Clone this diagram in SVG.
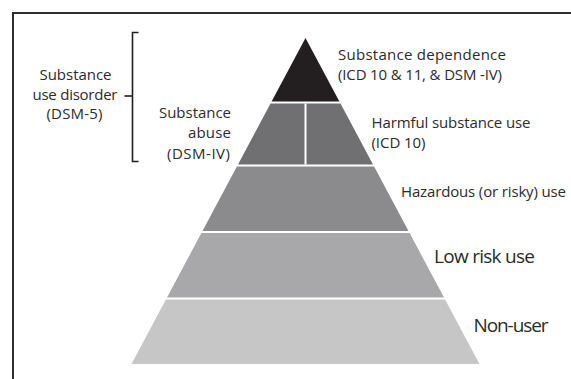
<svg xmlns="http://www.w3.org/2000/svg" width="571" height="379" viewBox="0 0 571 379">
<style>
text{font-family:"Open Sans","Liberation Sans",sans-serif;fill:#2b2b2b;font-size:15px}
.big{font-size:19px}
.frame{fill:none;stroke:#2e2e2e;stroke-width:2}
.br{fill:none;stroke:#231f20;stroke-width:1.6}
</style>
<rect width="571" height="379" fill="#ffffff"/>
<path class="frame" d="M13,379 V13 H571"/>
<g id="dependence">
<polygon points="305.5,38 339.4,101.5 271.6,101.5" fill="#231f20"/>
<text x="338" y="60" textLength="168">Substance dependence</text>
<text x="338" y="80" textLength="164">(ICD 10 &amp; 11, &amp; DSM -IV)</text>
</g>
<g id="abuse-harmful">
<polygon points="270.5,103.5 340.5,103.5 373,164.5 238,164.5" fill="#707072"/>
<line x1="305.5" y1="103.5" x2="305.5" y2="164.5" stroke="#ffffff" stroke-width="2"/>
<text x="231" y="118" text-anchor="end" textLength="72">Substance</text>
<text x="231" y="138" text-anchor="end" textLength="43">abuse</text>
<text x="230" y="159" text-anchor="end" textLength="63">(DSM-IV)</text>
<text x="371.5" y="128" textLength="159">Harmful substance use</text>
<text x="371.5" y="148" textLength="54">(ICD 10)</text>
</g>
<g id="hazardous">
<polygon points="236.9,166.5 374.1,166.5 408.5,231 202.5,231" fill="#8b8b8d"/>
<text x="401" y="197" textLength="165">Hazardous (or risky) use</text>
</g>
<g id="low-risk">
<polygon points="201.4,233 409.6,233 444,297.5 167,297.5" fill="#a8a8aa"/>
<text class="big" x="434" y="263" textLength="101">Low risk use</text>
</g>
<g id="non-user">
<polygon points="165.9,299.5 445.1,299.5 479.5,364 131.5,364" fill="#c6c6c7"/>
<text class="big" x="473.5" y="332" textLength="75">Non-user</text>
</g>
<g id="sud">
<text x="75.5" y="80" text-anchor="middle" textLength="72">Substance</text>
<text x="75" y="100" text-anchor="middle" textLength="85">use disorder</text>
<text x="74.5" y="119" text-anchor="middle" textLength="56">(DSM-5)</text>
</g>
<g id="connectors">
<path class="br" d="M138.5,32.5 H132.5 V161.5 H138.5"/>
<path class="br" d="M132.5,96 H124.5"/>
</g>
</svg>
